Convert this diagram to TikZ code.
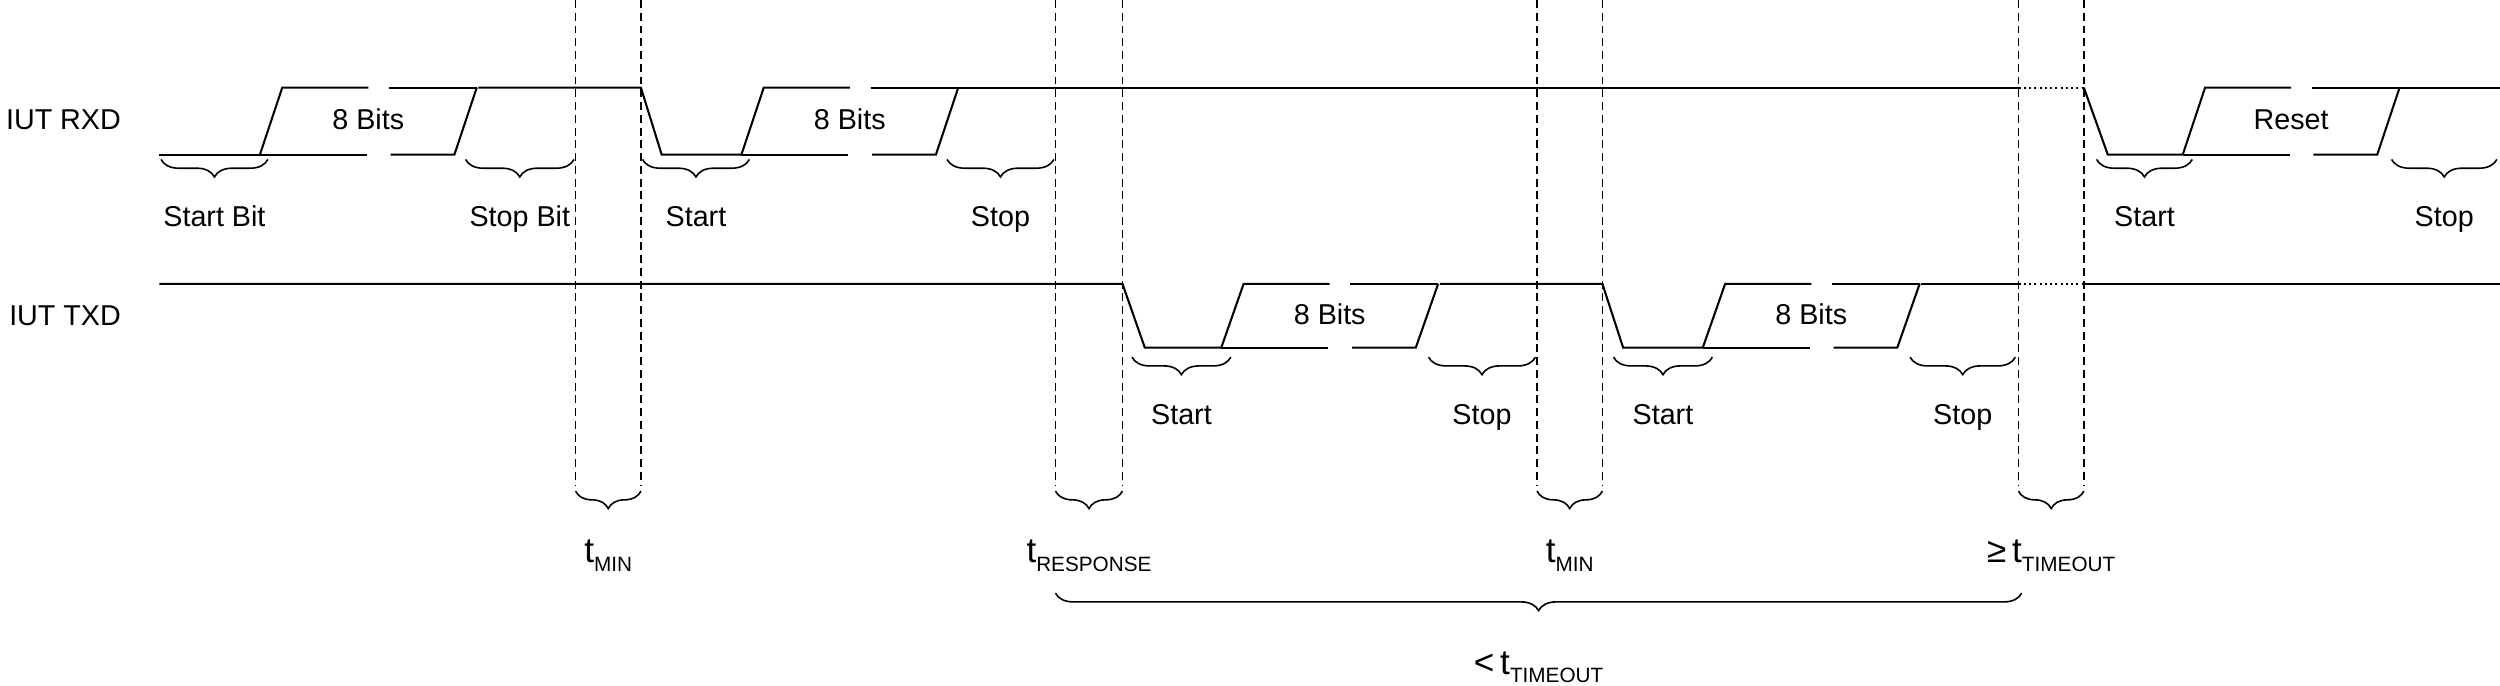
\documentclass[tikz,border=0pt]{standalone}
\usepackage{fontspec}
\setmainfont{Liberation Sans}
\usetikzlibrary{decorations.pathreplacing}

\tikzset{
  wave/.style={black, line width=1.3pt},
  guide/.style={black, dash pattern=on 5pt off 3pt, line width=1.1pt},
  brc/.style={black, line width=1pt, decorate, decoration={brace, mirror, amplitude=11pt}},
  lbl/.style={inner sep=0pt, font=\fontsize{18}{20}\selectfont},
}
% t with a lowered subscript
\newcommand{\tsub}[1]{\fontsize{22}{24}\selectfont t\raisebox{-0.45ex}{\fontsize{13}{14}\selectfont #1}}
% one frame of bits: start x, high y, low y, text, name
\newcommand{\bitframe}[5]{%
  \draw [wave] (#1,#3) -- ++(14,#2-#3) -- ++(54,0);
  \draw [wave] (#1+81,#2) -- (#1+136,#2);
  \draw [wave] (#1,#3) -- (#1+67,#3);
  \draw [wave] (#1+82,#3) -- (#1+122,#3) -- (#1+136,#2);
  \node [lbl] (#5) at (#1+68,#2/2+#3/2-1) {#4};
}
% brace below a span with its label
\newcommand{\spanbrace}[6]{%
  \draw [brc] (#1,#3) -- (#2,#3);
  \node [lbl, anchor=base] (#5) at ({(#1+#2)/2},#3+#6) {#4};
}

\begin{document}
\begin{tikzpicture}[x=1pt, y=-1pt]
\useasboundingbox (0,0) rectangle (1568,430);

\node [lbl, anchor=east] (rxd) at (76,75) {IUT RXD};
\node [lbl, anchor=east] (txd) at (76,198) {IUT TXD};

% guide lines
\foreach \gx in {361,402,662,704,964,1005,1266,1307}
  \draw [guide] (\gx,0) -- (\gx,305);

% RXD
\draw [wave] (100,97) -- (163,97);
\bitframe{163}{55}{97}{8 Bits}{rxa}
\draw [wave] (300,55) -- (402,55) -- (415,97) -- (465,97);
\bitframe{465}{55}{97}{8 Bits}{rxb}
\draw [wave] (600,55) -- (1266,55);
\draw [wave, dotted] (1266,55) -- (1307,55);
\draw [wave] (1307,55) -- (1322,97) -- (1369,97);
\bitframe{1369}{55}{97}{Reset}{rxc}
\draw [wave] (1505,55) -- (1568,55);

% TXD
\draw [wave] (100,178) -- (704,178) -- (718,218) -- (766,218);
\bitframe{766}{178}{218}{8 Bits}{txa}
\draw [wave] (903,178) -- (1005,178) -- (1018,218) -- (1068,218);
\bitframe{1068}{178}{218}{8 Bits}{txb}
\draw [wave] (1205,178) -- (1266,178);
\draw [wave, dotted] (1266,178) -- (1307,178);
\draw [wave] (1307,178) -- (1568,178);

% bit braces
\spanbrace{101}{168}{100}{Start Bit}{sb1}{42}
\spanbrace{292}{360}{100}{Stop Bit}{pb1}{42}
\spanbrace{403}{470}{100}{Start}{sb2}{42}
\spanbrace{594}{661}{100}{Stop}{pb2}{42}
\spanbrace{1315}{1375}{100}{Start}{sb3}{42}
\spanbrace{1500}{1566}{100}{Stop}{pb3}{42}
\spanbrace{710}{772}{224}{Start}{sb4}{42}
\spanbrace{896}{963}{224}{Stop}{pb4}{42}
\spanbrace{1012}{1074}{224}{Start}{sb5}{42}
\spanbrace{1198}{1264}{224}{Stop}{pb5}{42}

% timing braces
\spanbrace{361}{402}{308}{\tsub{MIN}}{tmin1}{45}
\spanbrace{662}{704}{308}{\tsub{RESPONSE}}{tresp}{45}
\spanbrace{964}{1005}{308}{\tsub{MIN}}{tmin2}{45}
\spanbrace{1266}{1307}{308}{\fontsize{22}{24}\selectfont ≥\,\tsub{TIMEOUT}}{tto}{45}
\spanbrace{662}{1268}{372}{\fontsize{22}{24}\selectfont<\,\tsub{TIMEOUT}}{tlt}{51}
\end{tikzpicture}
\end{document}
